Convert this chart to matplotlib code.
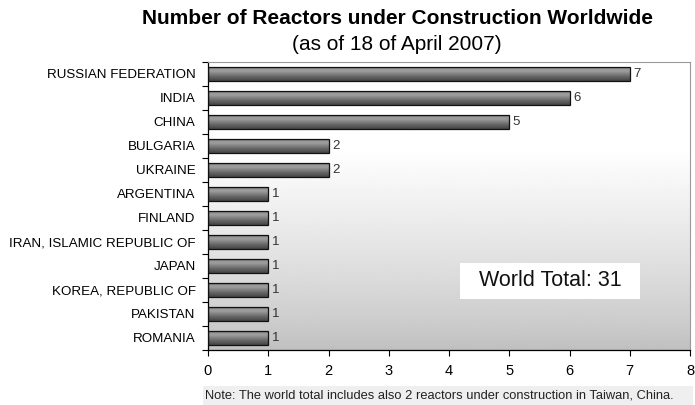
import numpy as np
import matplotlib
matplotlib.use("Agg")
import matplotlib.pyplot as plt
from matplotlib.patches import Rectangle

plt.rcParams['font.family'] = ['Liberation Sans', 'DejaVu Sans']

# data
countries = ["RUSSIAN FEDERATION", "INDIA", "CHINA", "BULGARIA", "UKRAINE",
             "ARGENTINA", "FINLAND", "IRAN, ISLAMIC REPUBLIC OF", "JAPAN",
             "KOREA, REPUBLIC OF", "PAKISTAN", "ROMANIA"]
reactors = [7, 6, 5, 2, 2, 1, 1, 1, 1, 1, 1, 1]
x_ticks = [0, 1, 2, 3, 4, 5, 6, 7, 8]
world_total = 31

W, H = 695, 405
fig = plt.figure(figsize=(W / 100, H / 100), dpi=100)
ax = fig.add_axes([208 / W, 1 - 350 / H, 482 / W, 288 / H])

# background gradient, white at top, grey at bottom
t = np.linspace(0, 1, 256).reshape(-1, 1)
bg = 0.75 + 0.25 * np.clip(t / 0.7, 0, 1) ** 0.8
ax.imshow(bg, extent=(0, 1, 0, 1), transform=ax.transAxes, origin='lower',
          cmap='gray', vmin=0, vmax=1, aspect='auto', zorder=0)

# bars with a cylinder-like shading
n = len(countries)
ypos = np.arange(n)[::-1]
h = 0.55
shade = np.array([0.28, 0.32, 0.36, 0.40, 0.45, 0.50, 0.55, 0.60, 0.62, 0.58, 0.45]).reshape(-1, 1)
for y, v in zip(ypos, reactors):
    ax.imshow(shade, extent=(0, v, y - h / 2, y + h / 2), origin='lower',
              cmap='gray', vmin=0, vmax=1, aspect='auto', zorder=2,
              interpolation='bilinear')
    ax.add_patch(Rectangle((0, y - h / 2), v, h, fill=False, edgecolor='#111111',
                           linewidth=0.9, zorder=3))
    ax.text(v + 0.06, y, str(v), va='center', ha='left', fontsize=9.5,
            color='#333333', zorder=4)

ax.set_xlim(0, 8)
ax.set_ylim(-0.5, n - 0.5)
ax.set_xticks(x_ticks)
ax.set_xticklabels([str(x) for x in x_ticks], fontsize=10.5)
ax.set_yticks(ypos)
ax.set_yticklabels(countries, fontsize=9.6)
ax.set_yticks(np.arange(-0.5, n, 1), minor=True)
ax.tick_params(axis='y', which='major', length=0, pad=9)
ax.tick_params(axis='y', which='minor', length=4, width=0.8, direction='out')
ax.tick_params(axis='x', length=4, width=0.8, direction='out', pad=6)

for s in ['top', 'right']:
    ax.spines[s].set_color('#9a9a9a')
for s in ['left', 'bottom']:
    ax.spines[s].set_color('black')
    ax.spines[s].set_linewidth(0.9)

# world total box
ax.add_patch(Rectangle((0.523, 0.177), 0.373, 0.125, transform=ax.transAxes,
                       facecolor='white', edgecolor='none', zorder=5))
ax.text(0.7095, 0.24, f"World Total: {world_total}", transform=ax.transAxes,
        ha='center', va='center', fontsize=15.5, color='#111111', zorder=6)

fig.text(397 / W, 1 - 18 / H, "Number of Reactors under Construction Worldwide",
         ha='center', va='center', fontsize=15, fontweight='bold')
fig.text(397 / W, 1 - 44 / H, "(as of 18 of April 2007)", ha='center', va='center',
         fontsize=15)

# note strip
fig.patches.append(Rectangle((203 / W, 0), 490 / W, 19 / H, transform=fig.transFigure,
                             facecolor='#efefef', edgecolor='none', zorder=0))
fig.text(205 / W, 1 - 395 / H,
         "Note: The world total includes also 2 reactors under construction in Taiwan, China.",
         ha='left', va='center', fontsize=9.3, color='#222222')

fig.savefig("out.png", dpi=100)
